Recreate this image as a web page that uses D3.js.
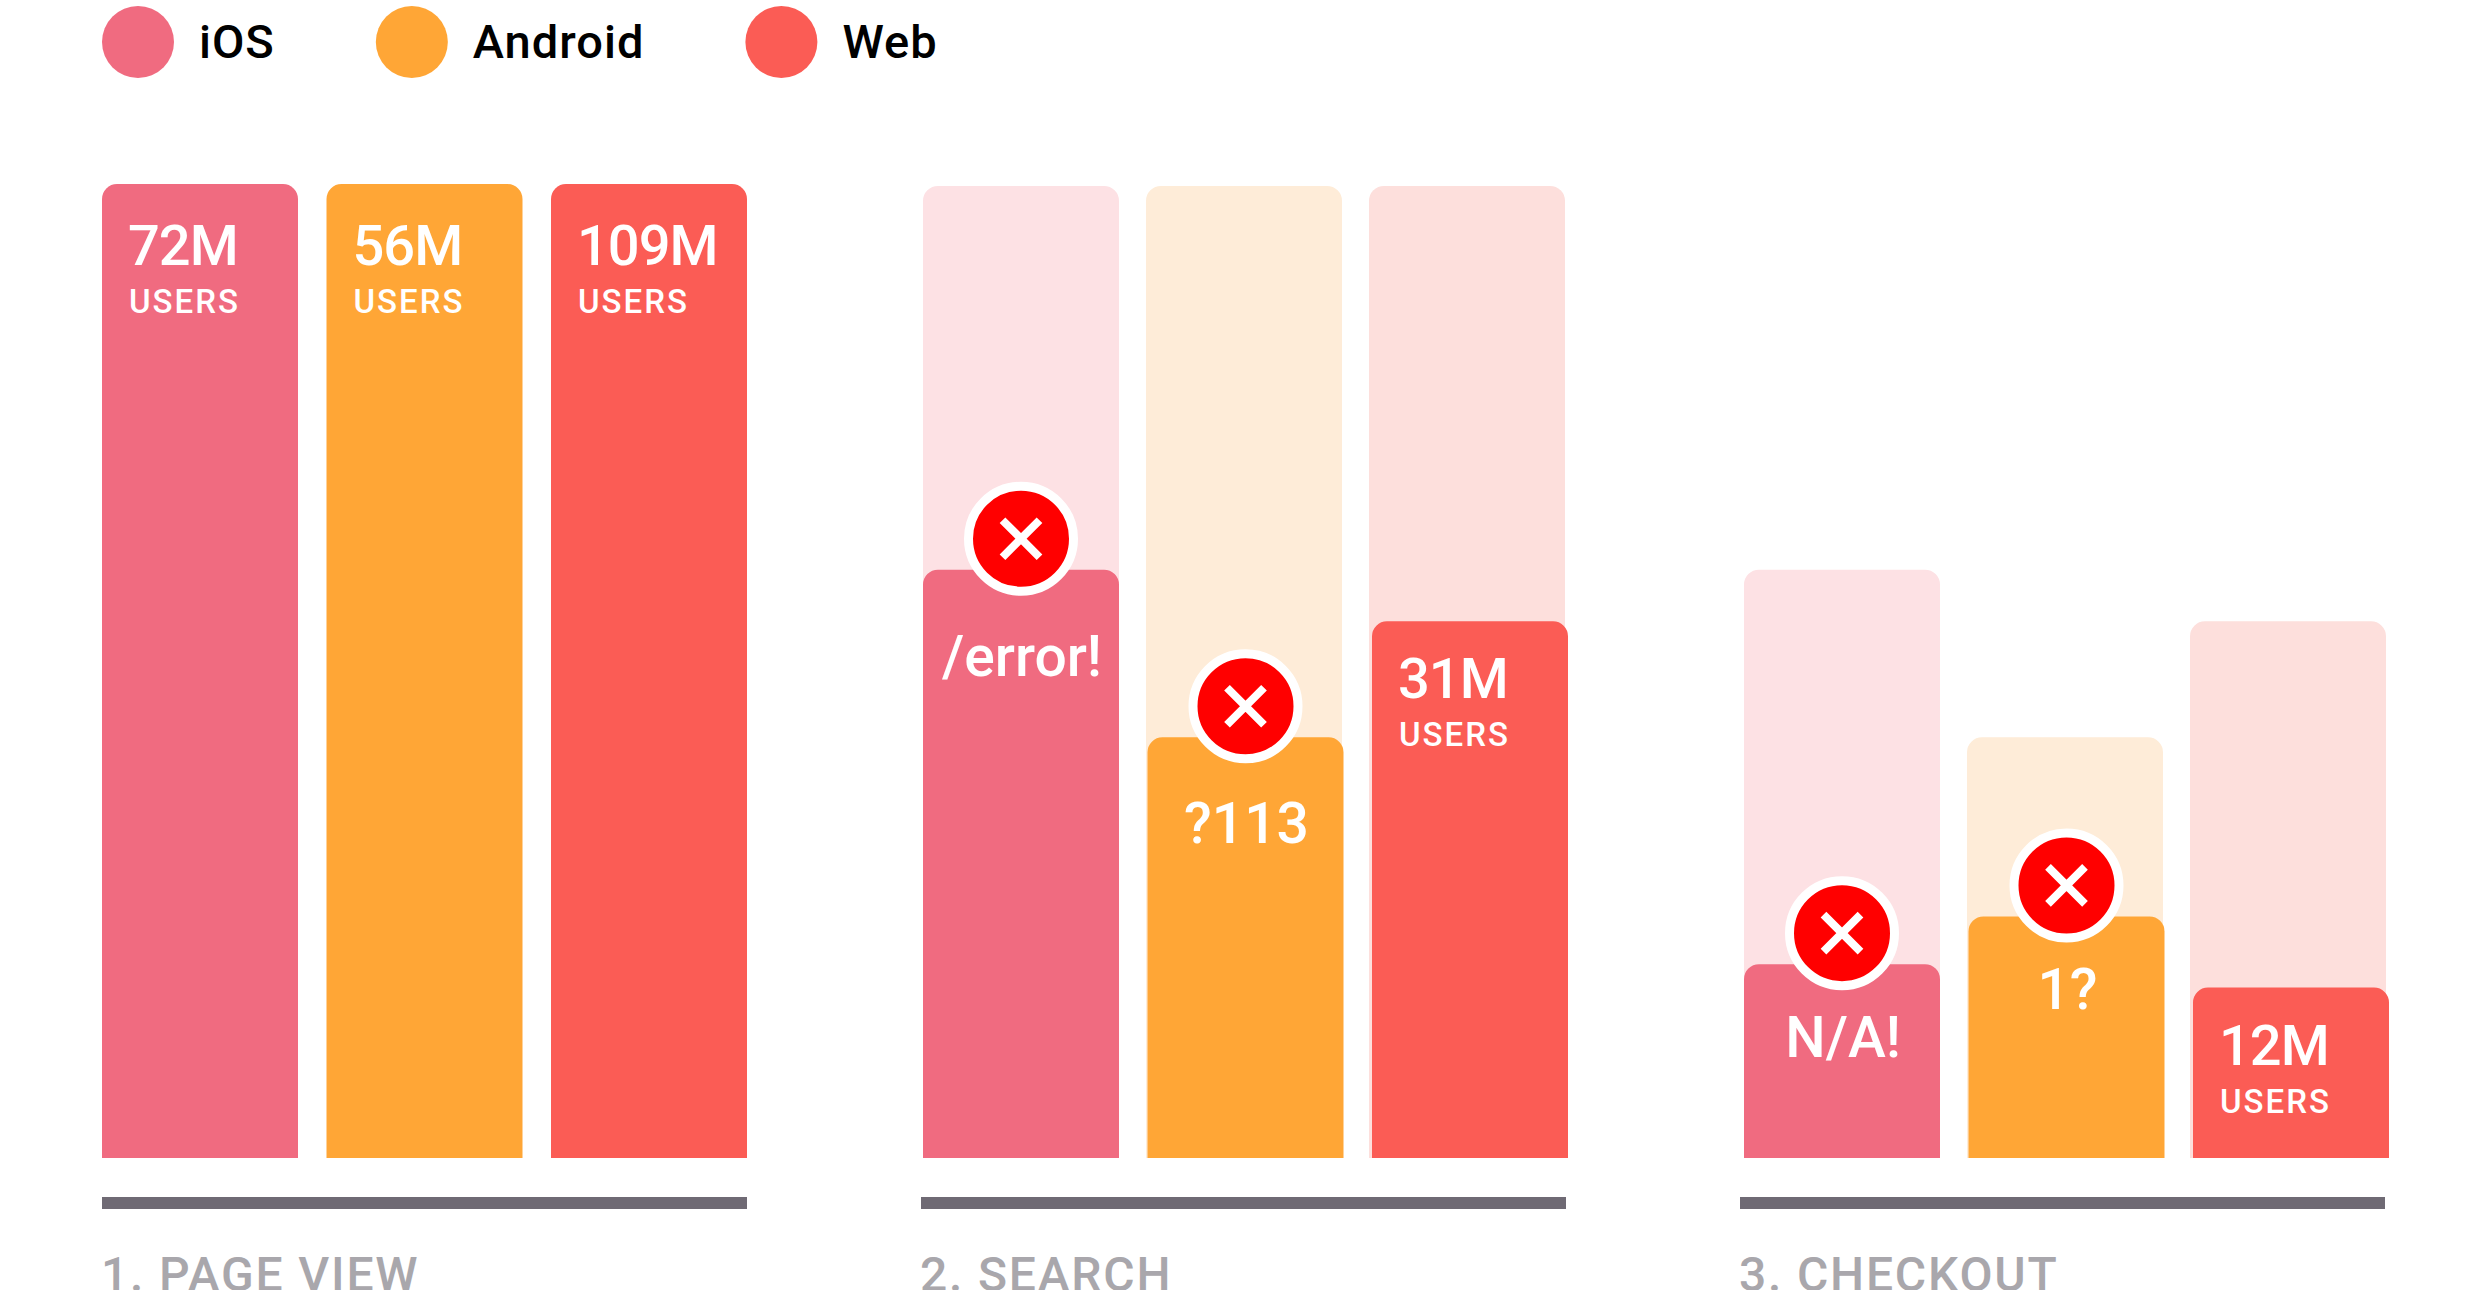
<!DOCTYPE html>
<html><head><meta charset="utf-8">
<script src="https://cdn.jsdelivr.net/npm/d3@7/dist/d3.min.js"></script>
<style>html,body{margin:0;padding:0;background:#fff;overflow:hidden}svg{display:block}text{font-family:Roboto,sans-serif}</style>
</head><body><svg id="c" width="2490" height="1290"></svg>
<script>
// ---- data ----
const platforms = ["iOS", "Android", "Web"];
const steps = ["1. PAGE VIEW", "2. SEARCH", "3. CHECKOUT"];
// bar height as a share of the page-view bar (%)
const pageViewShare = [100, 100, 100];
const searchShare = [60.4, 43.2, 55.1];
const checkoutShare = [19.9, 24.8, 17.5];
// faded "previous step" bars
const searchGhost = [99.8, 99.8, 99.8];
const checkoutGhost = [60.4, 43.2, 55.1];
// labels shown in the bars
const pageViewLabels = ["72M", "56M", "109M"];
const searchLabels = ["/error!", "?113", "31M"];
const checkoutLabels = ["N/A!", "1?", "12M"];
const searchFailed = [true, true, false];
const checkoutFailed = [true, true, false];

const colors = ["#f06b80", "#ffa636", "#fb5c55"];
const ghostColors = ["#fde1e4", "#feecd8", "#fddfdc"];

const rows = [
  {step: steps[0], share: pageViewShare, ghost: null, labels: pageViewLabels, failed: [false,false,false], okDrop: 81, errDrop: 0},
  {step: steps[1], share: searchShare, ghost: searchGhost, labels: searchLabels, failed: searchFailed, okDrop: 77, errDrop: 106},
  {step: steps[2], share: checkoutShare, ghost: checkoutGhost, labels: checkoutLabels, failed: checkoutFailed, okDrop: 77, errDrop: 92.5}
];

const svg = d3.select("#c");
const y = d3.scaleLinear().domain([0, 100]).range([1158, 184]);
const gx = d3.scaleBand().domain(steps).range([102, 2388]).paddingInner(177 / 821);
const axisX = d3.scaleBand().domain(steps).range([102, 2385]).paddingInner(174 / 819);
const color = d3.scaleOrdinal(platforms, colors);
const ghostColor = d3.scaleOrdinal(platforms, ghostColors);

// legend: flows left to right from the measured label widths
let legendCursor = 102;
platforms.forEach(p => {
  const g = svg.append("g").attr("transform", `translate(${legendCursor + 36},42)`);
  g.append("circle").attr("r", 36).attr("fill", color(p));
  const t = g.append("text").attr("x", 61).attr("y", 16).attr("font-size", 47).attr("font-weight", 500)
    .attr("letter-spacing", 1).attr("fill", "#000").text(p);
  legendCursor += 61 + t.node().getComputedTextLength() + 137;
});

function topRounded(x, w, top, bottom, r) {
  const p = d3.path();
  p.moveTo(x, bottom);
  p.lineTo(x, top + r);
  p.arcTo(x, top, x + r, top, r);
  p.lineTo(x + w - r, top);
  p.arcTo(x + w, top, x + w, top + r, r);
  p.lineTo(x + w, bottom);
  p.closePath();
  return p.toString();
}

rows.forEach(row => {
  const g = svg.append("g");
  const x0 = gx(row.step), bw = gx.bandwidth();
  const x = d3.scaleBand().domain(platforms).range([x0, x0 + bw + 1]).paddingInner(28.5 / 224.5);
  const xg = d3.scaleBand().domain(platforms).range([x0, x0 + bw - 2]).paddingInner(27 / 223);
  if (row.ghost) {
    g.selectAll("path.ghost").data(platforms).join("path").attr("class", "ghost")
      .attr("fill", d => ghostColor(d))
      .attr("d", (d, i) => topRounded(xg(d), xg.bandwidth(), y(row.ghost[i]), y(0), 15));
  }
  g.selectAll("path.bar").data(platforms).join("path").attr("class", "bar")
    .attr("fill", d => color(d))
    .attr("d", (d, i) => topRounded(x(d), x.bandwidth(), y(row.share[i]), y(0), 15));

  platforms.forEach((p, i) => {
    const top = y(row.share[i]), cx = x(p) + x.bandwidth() / 2;
    if (row.failed[i]) {
      g.append("text").attr("x", cx + 1).attr("y", top + row.errDrop).attr("text-anchor", "middle")
        .attr("font-size", 57).attr("font-weight", 500).attr("fill", "#fff").text(row.labels[i]);
      const b = g.append("g").attr("transform", `translate(${cx},${top - 31})`);
      b.append("circle").attr("r", 52.5).attr("fill", "#f00").attr("stroke", "#fff").attr("stroke-width", 9);
      b.append("path").attr("d", "M-18.5,-18.5L18.5,18.5M18.5,-18.5L-18.5,18.5")
        .attr("stroke", "#fff").attr("stroke-width", 8).attr("fill", "none");
    } else {
      g.append("text").attr("x", x(p) + 26).attr("y", top + row.okDrop).attr("font-size", 56).attr("font-weight", 500)
        .attr("letter-spacing", -1).attr("fill", "#fff").text(row.labels[i]);
      g.append("text").attr("x", x(p) + 27).attr("y", top + row.okDrop + 48).attr("font-size", 33).attr("font-weight", 500)
        .attr("letter-spacing", 2).attr("fill", "#fff").text("USERS");
    }
  });

  // baseline + step title
  g.append("rect").attr("x", axisX(row.step)).attr("y", 1197).attr("width", axisX.bandwidth()).attr("height", 12).attr("fill", "#6f6a74");
  g.append("text").attr("x", axisX(row.step) - 1).attr("y", 1291).attr("font-size", 48).attr("font-weight", 500)
    .attr("letter-spacing", 1.8).attr("fill", "#a9a7ac").text(row.step);
});
</script></body></html>
